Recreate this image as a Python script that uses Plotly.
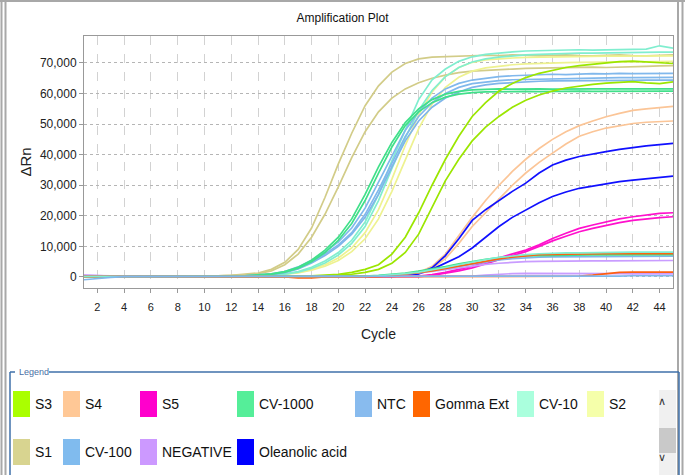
import plotly.graph_objects as go

# ---------------- data (ΔRn values in thousands) ----------------
UNIT = 1000
cycles = list(range(1, 46))

s1_r1 = [0.3, 0.2, 0.2, 0.2, 0.2, 0.2, 0.2, 0.3, 0.3, 0.3,
         0.4, 0.5, 0.8, 1.3, 2.5, 4.8, 9.0, 16.0, 26.0, 37.0,
         47.0, 56.0, 62.5, 67.0, 69.8, 71.3, 71.9, 72.1, 72.3, 72.4,
         72.5, 72.4, 72.6, 72.5, 72.3, 72.5, 72.6, 72.4, 72.3, 72.5,
         72.6, 72.4, 72.3, 72.5, 72.6]
s1_r2 = [0.2, 0.2, 0.1, 0.2, 0.2, 0.2, 0.3, 0.3, 0.3, 0.3,
         0.4, 0.5, 0.7, 1.1, 2.0, 4.0, 7.5, 13.0, 20.5, 29.5,
         39.0, 47.5, 54.0, 58.5, 61.5, 63.5, 65.0, 66.0, 66.8, 67.3,
         67.6, 67.8, 68.0, 68.2, 68.3, 68.2, 68.4, 68.5, 68.6, 68.5,
         68.7, 68.8, 68.9, 69.0, 69.1]
s2_r1 = [0.1, 0.1, 0.1, 0.1, 0.1, 0.1, 0.1, 0.2, 0.2, 0.2,
         0.2, 0.2, 0.3, 0.4, 0.6, 0.9, 1.5, 2.5, 4.0, 6.2,
         9.5, 14.5, 22.0, 32.0, 43.0, 53.0, 60.5, 65.5, 68.5, 70.2,
         71.0, 71.4, 71.6, 71.8, 71.9, 72.0, 72.0, 72.1, 72.1, 72.2,
         72.2, 72.2, 72.3, 72.3, 72.3]
s2_r2 = [0.1, 0.1, 0.1, 0.1, 0.1, 0.1, 0.1, 0.1, 0.2, 0.2,
         0.2, 0.2, 0.2, 0.3, 0.5, 0.8, 1.3, 2.2, 3.5, 5.4,
         8.3, 12.5, 19.0, 28.0, 38.5, 48.5, 56.5, 62.0, 65.3, 67.3,
         68.4, 69.0, 69.4, 69.7, 69.9, 70.0, 70.1, 70.2, 70.2, 70.3,
         70.3, 70.4, 70.4, 70.4, 70.5]
cv10_r1 = [0.1, 0.1, 0.1, 0.1, 0.1, 0.1, 0.2, 0.2, 0.2, 0.2,
           0.2, 0.3, 0.3, 0.4, 0.6, 1.0, 1.8, 3.2, 5.2, 8.0,
           12.0, 18.0, 27.0, 38.0, 48.0, 58.0, 64.5, 68.0, 70.5, 72.0,
           72.8, 73.3, 73.6, 73.9, 74.0, 74.2, 74.1, 74.3, 74.2, 74.3,
           74.4, 74.3, 74.5, 75.6, 74.8]
cv10_r2 = [0.1, 0.1, 0.1, 0.1, 0.1, 0.1, 0.1, 0.2, 0.2, 0.2,
           0.2, 0.2, 0.3, 0.4, 0.5, 0.9, 1.6, 2.8, 4.6, 7.2,
           11.0, 16.5, 25.0, 35.5, 45.5, 54.5, 61.0, 65.5, 68.5, 70.3,
           71.3, 71.9, 72.3, 72.6, 72.8, 73.0, 73.1, 73.2, 73.2, 73.3,
           73.3, 73.4, 73.4, 73.5, 73.5]
cv10_r3 = [0.1, 0.1, 0.1, 0.1, 0.1, 0.1, 0.1, 0.1, 0.1, 0.1,
           0.1, 0.1, 0.1, 0.1, 0.1, 0.1, 0.2, 0.2, 0.2, 0.2,
           0.2, 0.2, 0.4, 0.7, 1.1, 1.6, 2.3, 3.1, 4.0, 4.9,
           5.7, 6.4, 6.9, 7.3, 7.6, 7.8, 7.9, 7.9, 8.0, 8.0,
           8.0, 8.1, 8.1, 8.1, 8.1]
cv1000_r1 = [0.1, 0.1, 0.1, 0.1, 0.2, 0.2, 0.2, 0.2, 0.2, 0.3,
             0.3, 0.3, 0.4, 0.6, 1.0, 1.8, 3.2, 5.5, 8.8, 13.0,
             19.0, 27.0, 36.0, 44.0, 50.5, 55.0, 58.0, 59.8, 60.7, 61.2,
             61.4, 61.5, 61.4, 61.5, 61.5, 61.4, 61.5, 61.6, 61.5, 61.5,
             61.6, 61.5, 61.5, 61.6, 61.5]
cv1000_r2 = [0.1, 0.1, 0.1, 0.1, 0.1, 0.2, 0.2, 0.2, 0.2, 0.2,
             0.3, 0.3, 0.4, 0.5, 0.9, 1.6, 2.9, 5.0, 8.0, 12.0,
             17.5, 25.0, 34.0, 42.5, 49.5, 54.0, 57.0, 58.8, 59.8, 60.3,
             60.5, 60.6, 60.6, 60.7, 60.6, 60.7, 60.7, 60.8, 60.7, 60.7,
             60.8, 60.8, 60.7, 60.8, 60.8]
cv1000_r3 = [0.1, 0.1, 0.1, 0.1, 0.1, 0.1, 0.1, 0.1, 0.1, 0.1,
             0.1, 0.1, 0.1, 0.1, 0.1, 0.2, 0.2, 0.2, 0.2, 0.2,
             0.2, 0.3, 0.5, 0.8, 1.3, 1.9, 2.6, 3.4, 4.3, 5.1,
             5.8, 6.3, 6.7, 6.9, 7.0, 7.1, 7.1, 7.2, 7.2, 7.2,
             7.2, 7.2, 7.3, 7.3, 7.3]
cv100_r1 = [0.1, 0.1, 0.1, 0.1, 0.1, 0.2, 0.2, 0.2, 0.2, 0.2,
            0.2, 0.3, 0.4, 0.6, 1.0, 1.8, 3.3, 5.5, 8.2, 11.5,
            16.0, 22.5, 31.0, 40.0, 48.0, 54.0, 58.5, 61.5, 63.3, 64.4,
            65.0, 65.5, 65.8, 66.0, 66.2, 66.3, 66.2, 66.4, 66.5, 66.4,
            66.6, 66.5, 66.5, 66.6, 66.6]
cv100_r2 = [0.1, 0.1, 0.1, 0.1, 0.1, 0.1, 0.2, 0.2, 0.2, 0.2,
            0.2, 0.3, 0.4, 0.5, 0.9, 1.6, 3.0, 5.0, 7.5, 10.5,
            14.5, 20.5, 28.5, 37.5, 46.0, 52.5, 57.0, 60.0, 62.0, 63.2,
            63.8, 64.2, 64.5, 64.6, 64.8, 64.9, 65.0, 65.0, 65.1, 65.1,
            65.2, 65.2, 65.3, 65.3, 65.3]
cv100_r3 = [-0.9, -0.4, -0.1, 0.1, 0.1, 0.1, 0.1, 0.1, 0.1, 0.1,
            0.1, 0.1, 0.1, 0.1, 0.1, 0.1, 0.1, 0.1, 0.1, 0.1,
            0.1, 0.1, 0.1, 0.1, 0.1, 0.2, 0.2, 0.2, 0.2, 0.2,
            0.2, 0.2, 0.2, 0.3, 0.3, 0.3, 0.3, 0.3, 0.3, 0.3,
            0.3, 0.4, 0.4, 0.4, 0.4]
ntc_r1 = [0.1, 0.1, 0.1, 0.1, 0.1, 0.1, 0.1, 0.2, 0.2, 0.2,
          0.2, 0.3, 0.3, 0.5, 0.8, 1.4, 2.6, 4.6, 7.0, 10.0,
          14.0, 19.5, 27.0, 36.0, 44.5, 51.0, 55.5, 58.5, 60.5, 62.0,
          62.8, 63.3, 63.6, 63.8, 64.0, 64.1, 64.1, 64.2, 64.2, 64.3,
          64.3, 64.3, 64.4, 64.4, 64.4]
ntc_r2 = [0.1, 0.1, 0.1, 0.1, 0.1, 0.1, 0.1, 0.1, 0.1, 0.1,
          0.1, 0.1, 0.1, 0.1, 0.1, 0.1, 0.1, 0.1, 0.1, 0.1,
          0.1, 0.1, 0.3, 0.6, 1.0, 1.5, 2.1, 2.8, 3.6, 4.3,
          5.0, 5.6, 6.0, 6.3, 6.5, 6.6, 6.6, 6.7, 6.7, 6.7,
          6.7, 6.8, 6.8, 6.8, 6.8]
s3_r1 = [0.1, 0.1, 0.1, 0.1, 0.1, 0.1, 0.1, 0.1, 0.1, 0.1,
         0.1, 0.1, 0.2, 0.2, 0.2, 0.3, 0.3, 0.4, 0.6, 0.9,
         1.5, 2.5, 4.0, 7.5, 13.0, 21.0, 30.0, 38.5, 46.0, 52.5,
         57.0, 60.8, 63.3, 65.2, 66.6, 67.6, 68.5, 69.1, 69.6, 70.0,
         70.4, 70.6, 70.3, 70.0, 69.8]
s3_r2 = [0.1, 0.1, 0.1, 0.1, 0.1, 0.1, 0.1, 0.1, 0.1, 0.1,
         0.1, 0.1, 0.1, 0.2, 0.2, 0.2, 0.3, 0.3, 0.4, 0.6,
         0.9, 1.5, 2.5, 4.5, 8.0, 14.0, 23.0, 31.5, 38.5, 44.5,
         49.0, 52.5, 55.5, 57.8, 59.5, 60.8, 61.8, 62.5, 63.0, 63.4,
         63.7, 63.9, 63.5, 63.2, 63.8]
s4_r1 = [0.1, 0.1, 0.1, 0.1, 0.1, 0.1, 0.1, 0.1, 0.1, 0.1,
         0.1, 0.1, 0.1, 0.1, 0.2, 0.2, 0.2, 0.2, 0.2, 0.2,
         0.2, 0.2, 0.3, 0.4, 0.6, 1.5, 3.5, 7.5, 13.5, 19.5,
         25.0, 30.0, 34.5, 38.5, 42.0, 45.0, 47.5, 49.5, 51.0, 52.4,
         53.5, 54.5, 55.0, 55.5, 55.8]
s4_r2 = [0.1, 0.1, 0.1, 0.1, 0.1, 0.1, 0.1, 0.1, 0.1, 0.1,
         0.1, 0.1, 0.1, 0.1, 0.1, 0.2, 0.2, 0.2, 0.2, 0.2,
         0.2, 0.2, 0.3, 0.3, 0.5, 1.2, 2.8, 6.0, 11.0, 16.5,
         21.0, 25.5, 30.0, 34.0, 37.5, 40.5, 43.5, 46.0, 47.5, 48.7,
         49.5, 50.2, 50.6, 50.9, 51.0]
ole_r1 = [0.1, 0.1, 0.1, 0.1, 0.1, 0.1, 0.1, 0.1, 0.1, 0.1,
          0.1, 0.1, 0.1, 0.1, 0.1, 0.1, 0.1, 0.1, 0.1, 0.1,
          0.1, 0.1, 0.2, 0.3, 0.5, 1.2, 3.0, 7.0, 12.5, 18.5,
          22.0, 25.0, 28.0, 30.7, 34.0, 36.6, 38.2, 39.4, 40.3, 41.0,
          41.7, 42.4, 42.9, 43.3, 43.7]
ole_r2 = [0.1, 0.1, 0.1, 0.1, 0.1, 0.1, 0.1, 0.1, 0.1, 0.1,
          0.1, 0.1, 0.1, 0.1, 0.1, 0.1, 0.1, 0.1, 0.1, 0.1,
          0.1, 0.1, 0.1, 0.2, 0.4, 1.0, 2.5, 4.5, 6.6, 9.5,
          13.0, 16.5, 19.5, 22.0, 24.3, 26.3, 27.8, 29.0, 29.8, 30.6,
          31.2, 31.7, 32.2, 32.6, 33.0]
s5_r1 = [0.1, 0.1, 0.1, 0.1, 0.1, 0.1, 0.1, 0.1, 0.1, 0.1,
         0.1, 0.1, 0.1, 0.1, 0.1, 0.1, 0.1, 0.1, 0.1, 0.1,
         0.1, 0.1, 0.1, 0.1, 0.1, 0.3, 0.8, 1.5, 2.5, 3.5,
         5.0, 6.3, 7.5, 8.8, 10.5, 12.6, 14.3, 15.9, 17.0, 18.0,
         19.0, 19.7, 20.3, 20.8, 21.0]
s5_r2 = [0.1, 0.1, 0.1, 0.1, 0.1, 0.1, 0.1, 0.1, 0.1, 0.1,
         0.1, 0.1, 0.1, 0.1, 0.1, 0.1, 0.1, 0.1, 0.1, 0.1,
         0.1, 0.1, 0.1, 0.1, 0.1, 0.1, 0.5, 1.2, 2.0, 3.0,
         4.3, 5.7, 7.0, 8.3, 10.0, 11.8, 13.3, 14.8, 15.9, 16.9,
         17.8, 18.5, 19.0, 19.4, 19.7]
neg_r1 = [0.5, 0.4, 0.2, 0.2, 0.2, 0.2, 0.2, 0.2, 0.2, 0.2,
          0.2, 0.2, 0.2, 0.2, 0.2, 0.2, 0.2, 0.2, 0.2, 0.2,
          0.2, 0.2, 0.4, 0.6, 0.9, 1.3, 1.8, 2.4, 3.0, 3.6,
          4.1, 4.5, 4.8, 5.0, 5.1, 5.2, 5.2, 5.3, 5.3, 5.3,
          5.3, 5.4, 5.4, 5.4, 5.4]
neg_r2 = [0.6, 0.4, 0.3, 0.3, 0.3, 0.3, 0.3, 0.3, 0.3, 0.3,
          0.3, 0.3, 0.3, 0.3, 0.3, 0.3, 0.3, 0.3, 0.3, 0.3,
          0.3, 0.3, 0.3, 0.3, 0.3, 0.3, 0.3, 0.3, 0.3, 0.3,
          0.6, 0.9, 1.1, 1.2, 1.2, 1.3, 1.3, 1.3, 1.3, 1.2,
          1.1, 1.0, 1.0, 1.0, 1.0]
gomma_r1 = [0.1, 0.1, 0.1, 0.1, 0.1, 0.1, 0.1, 0.1, 0.1, 0.1,
            0.1, 0.1, 0.1, 0.1, 0.1, 0.1, 0.1, 0.1, 0.1, 0.1,
            0.1, 0.1, 0.1, 0.5, 0.9, 1.4, 2.0, 2.8, 3.6, 4.4,
            5.2, 5.9, 6.5, 7.0, 7.3, 7.4, 7.5, 7.5, 7.5, 7.6,
            7.6, 7.6, 7.6, 7.6, 7.6]
gomma_r2 = [0.1, 0.1, 0.1, 0.1, 0.1, 0.1, 0.1, 0.1, 0.1, 0.1,
            0.1, 0.1, 0.1, 0.1, 0.1, 0.0, -0.3, -0.3, 0.0, 0.1,
            0.1, 0.1, 0.1, 0.1, 0.1, 0.1, 0.1, 0.1, 0.1, 0.1,
            0.1, 0.1, 0.1, 0.1, 0.1, 0.1, 0.1, 0.3, 0.6, 1.1,
            1.5, 1.6, 1.6, 1.6, 1.6]

legend_names = ["S3", "S4", "S5", "CV-1000", "NTC", "Gomma Ext", "CV-10", "S2",
                "S1", "CV-100", "NEGATIVE", "Oleanolic acid"]
x_tick_vals = list(range(2, 45, 2))
y_tick_vals = [0, 10000, 20000, 30000, 40000, 50000, 60000, 70000]

# drawing order (later = on top)
series = [
    ("S1", [s1_r1, s1_r2]),
    ("S2", [s2_r1, s2_r2]),
    ("CV-10", [cv10_r1, cv10_r2]),
    ("CV-100", [cv100_r1, cv100_r2]),
    ("NTC", [ntc_r1]),
    ("CV-1000", [cv1000_r1, cv1000_r2]),
    ("S3", [s3_r1, s3_r2]),
    ("S4", [s4_r1, s4_r2]),
    ("Oleanolic acid", [ole_r1, ole_r2]),
    ("S5", [s5_r1, s5_r2]),
    ("NEGATIVE", [neg_r1, neg_r2]),
    ("NTC", [ntc_r2]),
    ("CV-1000", [cv1000_r3]),
    ("Gomma Ext", [gomma_r1, gomma_r2]),
    ("CV-10", [cv10_r3]),
    ("CV-100", [cv100_r3]),
]

# ---------------- styles ----------------
line_color = {"S3": "#9be600", "S4": "#fbc597", "S5": "#ff10cc", "CV-1000": "#40e08a",
              "NTC": "#7fb5ea", "Gomma Ext": "#ff6010", "CV-10": "#80eecf", "S2": "#eef290",
              "S1": "#d2cc88", "CV-100": "#80b8ec", "NEGATIVE": "#c99cff", "Oleanolic acid": "#1010ff"}
swatch_color = {"S3": "#aaff00", "S4": "#ffc896", "S5": "#ff00cc", "CV-1000": "#55ee99",
                "NTC": "#88bbee", "Gomma Ext": "#ff6600", "CV-10": "#aaffdd", "S2": "#f5ffaa",
                "S1": "#d8d490", "CV-100": "#80bbee", "NEGATIVE": "#cc99ff", "Oleanolic acid": "#0000ff"}

FONT = "Liberation Sans, Arial, sans-serif"
W, H = 685, 475
ML, MR, MT, MB = 84, 12, 36, 187
PW, PH = W - ML - MR, H - MT - MB


def xp(px):
    return (px - ML) / PW


def yp(py):
    return (H - MB - py) / PH


fig = go.Figure()
for name, reps in series:
    for vals in reps:
        fig.add_trace(go.Scatter(
            x=cycles, y=[v * UNIT for v in vals], mode="lines", name=name,
            legendgroup=name, showlegend=False,
            line=dict(color=line_color[name], width=1.7),
            hovertemplate=name + "<br>Cycle %{x}<br>ΔRn %{y:,.0f}<extra></extra>"))

shapes = []
annotations = []

# outer window frame
frame_col = "#a8a8a8"
for x in (1.5, 5.5, 678, 682.5):
    shapes.append(dict(type="line", xref="paper", yref="paper", x0=xp(x), x1=xp(x),
                       y0=yp(0), y1=yp(H), line=dict(color=frame_col, width=2)))
shapes.append(dict(type="line", xref="paper", yref="paper", x0=xp(0), x1=xp(W),
                   y0=yp(1), y1=yp(1), line=dict(color=frame_col, width=2)))

# legend frame
lg_col = "#3f70aa"
lg_top = 372
shapes += [
    dict(type="line", xref="paper", yref="paper", x0=xp(10), x1=xp(10), y0=yp(lg_top), y1=yp(H),
         line=dict(color=lg_col, width=1.5)),
    dict(type="line", xref="paper", yref="paper", x0=xp(10), x1=xp(15), y0=yp(lg_top), y1=yp(lg_top),
         line=dict(color=lg_col, width=1.5)),
    dict(type="line", xref="paper", yref="paper", x0=xp(49), x1=xp(679), y0=yp(lg_top), y1=yp(lg_top),
         line=dict(color=lg_col, width=1.5)),
    dict(type="line", xref="paper", yref="paper", x0=xp(679), x1=xp(679), y0=yp(lg_top), y1=yp(H),
         line=dict(color=lg_col, width=1.5)),
]
annotations.append(dict(xref="paper", yref="paper", x=xp(17), y=yp(lg_top), text="Legend",
                        showarrow=False, xanchor="left", yanchor="middle",
                        font=dict(family=FONT, size=9, color="#4a6fa5")))

# legend entries (grid of columns, as in the reference panel)
col_x = [13, 63, 140, 237, 355, 413, 517, 587]
row_y = [404, 452]
for i, name in enumerate(legend_names):
    r, c = divmod(i, 8)
    x0, yc = col_x[c], row_y[r]
    shapes.append(dict(type="rect", xref="paper", yref="paper", x0=xp(x0), x1=xp(x0 + 17),
                       y0=yp(yc - 13), y1=yp(yc + 13), fillcolor=swatch_color[name],
                       line=dict(width=0)))
    annotations.append(dict(xref="paper", yref="paper", x=xp(x0 + 20), y=yp(yc), text=name,
                            showarrow=False, xanchor="left", yanchor="middle",
                            font=dict(family=FONT, size=14, color="#111111")))

# scroll bar
shapes += [
    dict(type="rect", xref="paper", yref="paper", x0=xp(659), x1=xp(676), y0=yp(390), y1=yp(H),
         fillcolor="#f0f0f0", line=dict(width=0)),
    dict(type="rect", xref="paper", yref="paper", x0=xp(659), x1=xp(676), y0=yp(428), y1=yp(453),
         fillcolor="#c9c9c9", line=dict(width=0)),
]
annotations += [
    dict(xref="paper", yref="paper", x=xp(667.5), y=yp(410), text="∧", showarrow=False,
         font=dict(family="DejaVu Sans", size=11, color="#333333")),
    dict(xref="paper", yref="paper", x=xp(667.5), y=yp(466), text="∨", showarrow=False,
         font=dict(family="DejaVu Sans", size=11, color="#333333")),
]

fig.update_layout(
    width=W, height=H,
    margin=dict(l=ML, r=MR, t=MT, b=MB),
    paper_bgcolor="white", plot_bgcolor="white",
    showlegend=False,
    font=dict(family=FONT, color="#222222"),
    title=dict(text="Amplification Plot", x=0.5, xref="container", xanchor="center",
               y=1 - 18 / H, yref="container", yanchor="middle",
               font=dict(family=FONT, size=12, color="#111111")),
    shapes=shapes, annotations=annotations,
)
fig.update_xaxes(
    range=[1, 45], tickvals=x_tick_vals, ticktext=[str(v) for v in x_tick_vals],
    showgrid=True, gridcolor="#d2d2d2", griddash="dash", gridwidth=1,
    showline=True, linecolor="#999999", linewidth=1, mirror=True,
    ticks="outside", ticklen=4, tickcolor="#999999",
    tickfont=dict(family=FONT, size=11, color="#222222"),
    ticklabelstandoff=5,
    title=dict(text="Cycle", font=dict(family=FONT, size=14, color="#222222"), standoff=16),
    zeroline=False,
)
fig.update_yaxes(
    range=[-3600, 78800], tickvals=y_tick_vals, tickformat=",d",
    showgrid=True, gridcolor="#b5b5b5", griddash="dot", gridwidth=1,
    showline=True, linecolor="#999999", linewidth=1, mirror=True,
    ticks="outside", ticklen=4, tickcolor="#999999",
    tickfont=dict(family=FONT, size=12, color="#222222"),
    title=dict(text="ΔRn", font=dict(family=FONT, size=15, color="#222222"), standoff=4),
    zeroline=False,
)

fig.write_html(
    "out.html",
    config={"displayModeBar": False},
    post_script="document.body.style.margin='0';document.body.style.overflow='hidden';",
)
